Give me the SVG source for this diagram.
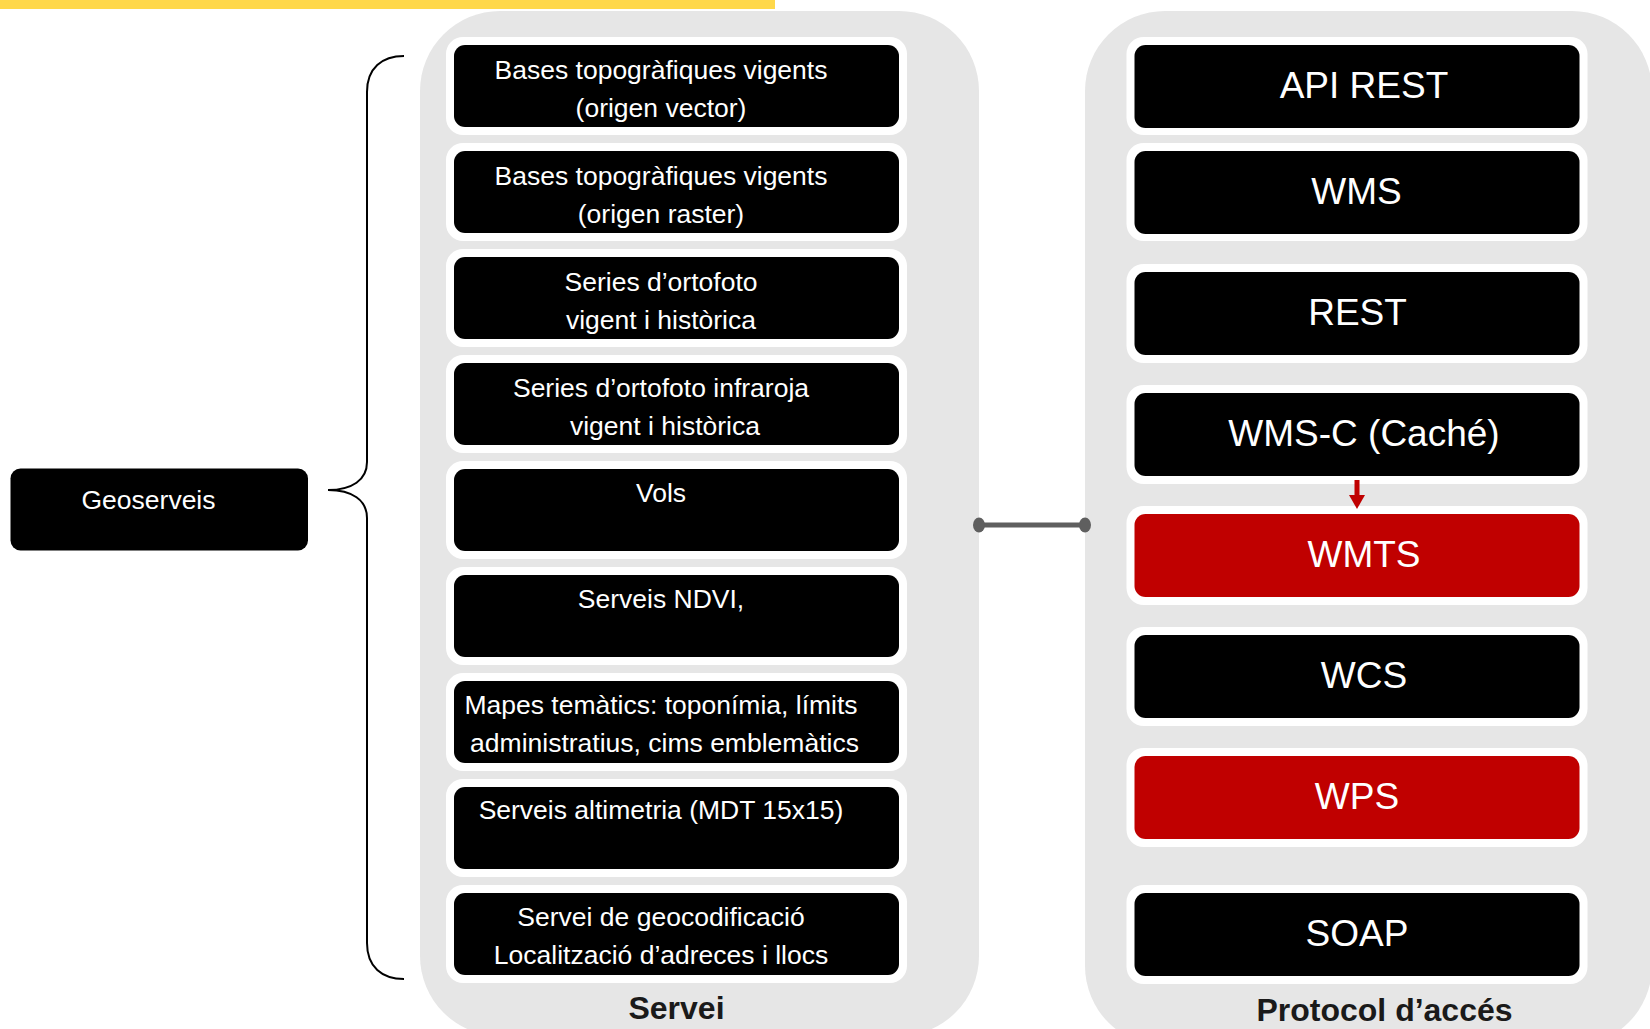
<svg xmlns="http://www.w3.org/2000/svg" width="1650" height="1029" viewBox="0 0 1650 1029">
<defs>
<style>
.panel{fill:#E6E6E6}
.halo{fill:#FFFFFF}
.blk{fill:#000000}
.red{fill:#C00000}
.t{font-family:"Liberation Sans",Arial,sans-serif;fill:#FFFFFF;text-anchor:middle}
.s{font-size:26.5px}
.b{font-size:37px}
.lbl{font-family:"Liberation Sans",Arial,sans-serif;font-weight:bold;font-size:32px;fill:#1A1A1A;text-anchor:middle}
.brace{fill:none;stroke:#000000;stroke-width:2}
.conn{stroke:#5F5F5F;stroke-width:5;fill:none}
</style>
</defs>
<rect width="1650" height="1029" fill="#FFFFFF"/>
<rect x="0" y="0" width="775" height="9" fill="#FFD84A"/>

<g id="panel-servei">
<rect class="panel" x="420" y="11" width="559" height="1025" rx="80" ry="80"/>
<text class="lbl" x="676.5" y="1019">Servei</text>
</g>
<g id="panel-protocol">
<rect class="panel" x="1085" y="11" width="567" height="1035" rx="80" ry="80"/>
<text class="lbl" x="1384.5" y="1021">Protocol d’accés</text>
</g>

<g id="geoserveis">
<rect class="blk" x="10.5" y="468.5" width="297.5" height="82" rx="10"/>
<text class="t s" x="148.5" y="509">Geoserveis</text>
</g>

<g id="s1">
<rect class="halo" x="446" y="37" width="461" height="98" rx="17"/>
<rect class="blk" x="454" y="45" width="445" height="82" rx="11"/>
<text class="t s" x="661" y="78.5">Bases topogràfiques vigents</text>
<text class="t s" x="661" y="116.5">(origen vector)</text>
</g>
<g id="s2">
<rect class="halo" x="446" y="143" width="461" height="98" rx="17"/>
<rect class="blk" x="454" y="151" width="445" height="82" rx="11"/>
<text class="t s" x="661" y="184.5">Bases topogràfiques vigents</text>
<text class="t s" x="661" y="222.5">(origen raster)</text>
</g>
<g id="s3">
<rect class="halo" x="446" y="249" width="461" height="98" rx="17"/>
<rect class="blk" x="454" y="257" width="445" height="82" rx="11"/>
<text class="t s" x="661" y="290.5">Series d’ortofoto</text>
<text class="t s" x="661" y="328.5">vigent i històrica</text>
</g>
<g id="s4">
<rect class="halo" x="446" y="355" width="461" height="98" rx="17"/>
<rect class="blk" x="454" y="363" width="445" height="82" rx="11"/>
<text class="t s" x="661" y="396.5">Series d’ortofoto infraroja</text>
<text class="t s" x="665" y="434.5">vigent i històrica</text>
</g>
<g id="s5">
<rect class="halo" x="446" y="461" width="461" height="98" rx="17"/>
<rect class="blk" x="454" y="469" width="445" height="82" rx="11"/>
<text class="t s" x="661" y="501.5">Vols</text>
</g>
<g id="s6">
<rect class="halo" x="446" y="567" width="461" height="98" rx="17"/>
<rect class="blk" x="454" y="575" width="445" height="82" rx="11"/>
<text class="t s" x="661" y="607.5">Serveis NDVI,</text>
</g>
<g id="s7">
<rect class="halo" x="446" y="673" width="461" height="98" rx="17"/>
<rect class="blk" x="454" y="681" width="445" height="82" rx="11"/>
<text class="t s" x="661" y="714">Mapes temàtics: toponímia, límits</text>
<text class="t s" x="664.5" y="752">administratius, cims emblemàtics</text>
</g>
<g id="s8">
<rect class="halo" x="446" y="779" width="461" height="98" rx="17"/>
<rect class="blk" x="454" y="787" width="445" height="82" rx="11"/>
<text class="t s" x="661" y="819">Serveis altimetria (MDT 15x15)</text>
</g>
<g id="s9">
<rect class="halo" x="446" y="885" width="461" height="98" rx="17"/>
<rect class="blk" x="454" y="893" width="445" height="82" rx="11"/>
<text class="t s" x="661" y="926">Servei de geocodificació</text>
<text class="t s" x="661" y="964">Localització d’adreces i llocs</text>
</g>

<g id="p1">
<rect class="halo" x="1126.5" y="37" width="461" height="98" rx="17"/>
<rect class="blk" x="1134.5" y="45" width="445" height="83" rx="11"/>
<text class="t b" x="1364" y="98">API REST</text>
</g>
<g id="p2">
<rect class="halo" x="1126.5" y="143" width="461" height="98" rx="17"/>
<rect class="blk" x="1134.5" y="151" width="445" height="83" rx="11"/>
<text class="t b" x="1356.5" y="204">WMS</text>
</g>
<g id="p3">
<rect class="halo" x="1126.5" y="264" width="461" height="99" rx="17"/>
<rect class="blk" x="1134.5" y="272" width="445" height="83" rx="11"/>
<text class="t b" x="1357.5" y="325">REST</text>
</g>
<g id="p4">
<rect class="halo" x="1126.5" y="385" width="461" height="99" rx="17"/>
<rect class="blk" x="1134.5" y="393" width="445" height="83" rx="11"/>
<text class="t b" x="1364" y="445.5">WMS-C (Caché)</text>
</g>
<g id="p5">
<rect class="halo" x="1126.5" y="506" width="461" height="99" rx="17"/>
<rect class="red" x="1134.5" y="514" width="445" height="83" rx="11"/>
<text class="t b" x="1364" y="566.5">WMTS</text>
</g>
<g id="p6">
<rect class="halo" x="1126.5" y="627" width="461" height="99" rx="17"/>
<rect class="blk" x="1134.5" y="635" width="445" height="83" rx="11"/>
<text class="t b" x="1364" y="687.5">WCS</text>
</g>
<g id="p7">
<rect class="halo" x="1126.5" y="748" width="461" height="99" rx="17"/>
<rect class="red" x="1134.5" y="756" width="445" height="83" rx="11"/>
<text class="t b" x="1357" y="808.5">WPS</text>
</g>
<g id="p8">
<rect class="halo" x="1126.5" y="885" width="461" height="99" rx="17"/>
<rect class="blk" x="1134.5" y="893" width="445" height="83" rx="11"/>
<text class="t b" x="1357" y="945.5">SOAP</text>
</g>

<g id="connectors">
<path class="brace" d="M404,56 C382,56 367,68 367,92 L367,462 C367,480 352,490 328,490 C352,490 367,500 367,518 L367,943 C367,967 382,979 404,979"/>
<line class="conn" x1="979" y1="525" x2="1085" y2="525"/>
<ellipse cx="979" cy="525" rx="6" ry="7.5" fill="#5F5F5F"/>
<ellipse cx="1085" cy="525" rx="6" ry="7.5" fill="#5F5F5F"/>
<line x1="1357" y1="480" x2="1357" y2="496" stroke="#C00000" stroke-width="5"/>
<path d="M1349,495 L1365,495 L1357,509 Z" fill="#C00000"/>
</g>
</svg>
